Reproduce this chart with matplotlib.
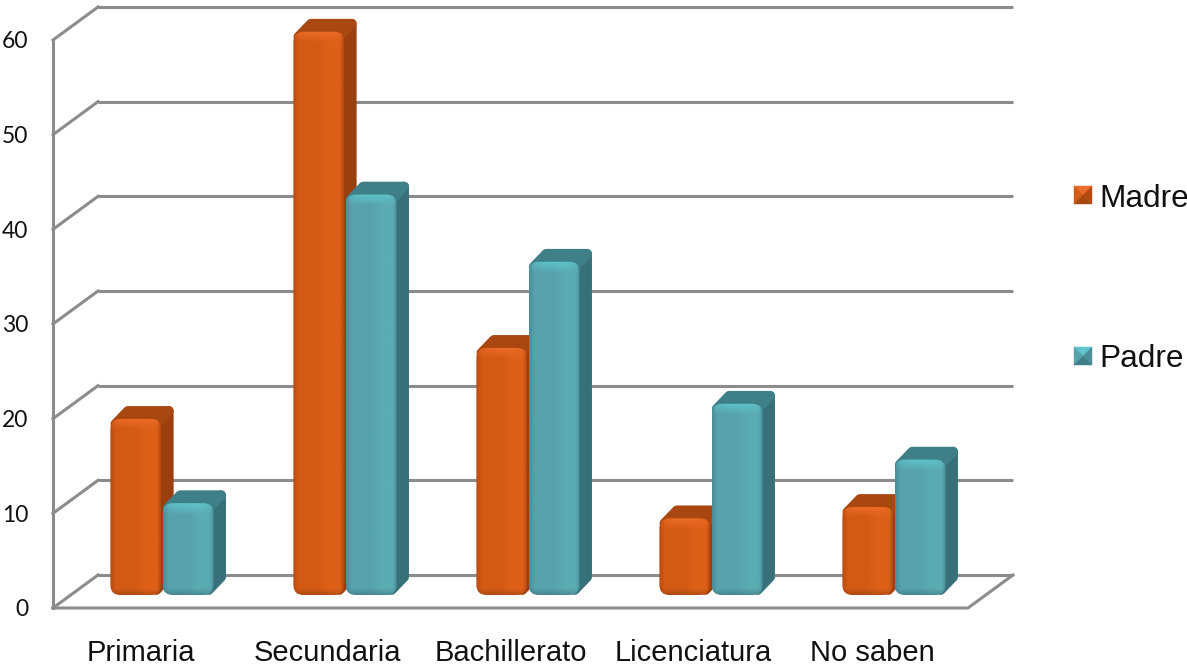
import numpy as np
import matplotlib
matplotlib.use('Agg')
import matplotlib.pyplot as plt
from matplotlib.colors import to_rgb
from matplotlib.patches import FancyBboxPatch, Polygon
from matplotlib.transforms import Affine2D, IdentityTransform

categories = ['Primaria', 'Secundaria', 'Bachillerato', 'Licenciatura', 'No saben']
madre = [18.6, 59.5, 26.1, 8.1, 9.3]
padre = [9.7, 42.3, 35.2, 20.2, 14.3]
y_ticks = [0, 10, 20, 30, 40, 50, 60]
series_labels = ['Madre', 'Padre']

W, H = 1187, 668
X0, X1 = 53, 968      # front edge of the floor
Y0, Y60 = 608, 40     # front edge of the left wall
BACK_DX, BACK_DY = 45, 33
PLANE_DX, PLANE_DY = 17.5, 13   # where the bars stand on the floor
DEPTH_X, DEPTH_Y = 12.5, 13
BAR_W = 0.278
GRID = '#8c8c8c'

ORANGE = dict(edge='#b84a10', body='#d35a14', right='#dd6018', bevel='#ee6c2a',
              side='#9a3f0d', top='#a8470f')
TEAL = dict(edge='#4a8f9a', body='#57a2ad', right='#5aabb2', bevel='#5fc4cb',
            side='#38707a', top='#3f8088')

fig = plt.figure(figsize=(W / 100, H / 100), dpi=100)
ax = fig.add_axes([X0 / W, (H - Y0) / H, (X1 - X0) / W, (Y0 - Y60) / H])
ax.patch.set_visible(False)
ax.set_xlim(-0.5, 4.5)
ax.set_ylim(0, 60)
for s in ax.spines.values():
    s.set_visible(False)

px_x = (X1 - X0) / 5      # pixels per category
px_y = (Y0 - Y60) / 60    # pixels per value unit


def shifted(dx, dy):
    return ax.transData + Affine2D().translate(dx, dy)


# walls and floor
back = shifted(BACK_DX, BACK_DY)
for t in y_ticks:
    ax.plot([-0.5, 4.5], [t, t], color=GRID, lw=2.2, transform=back, clip_on=False,
            solid_capstyle='butt', zorder=1)
    ax.plot([-0.5, -0.5 + BACK_DX / px_x], [t, t + BACK_DY / px_y], color=GRID, lw=2.2,
            clip_on=False, zorder=1)
ax.plot([-0.5, -0.5], [0, 60], color=GRID, lw=2.2, clip_on=False, zorder=1)
ax.plot([-0.5, 4.5, 4.5 + BACK_DX / px_x], [0, 0, BACK_DY / px_y], color=GRID, lw=2.2,
        clip_on=False, zorder=1)


def face_image(cols, rows, pal):
    # shaded front of a bar: darker rim, light bevel along the top
    xs = np.linspace(0, 1, cols)
    stops = [to_rgb(pal[k]) for k in ('edge', 'body', 'body', 'right', 'right', 'edge')]
    pos = [0, 0.1, 0.5, 0.7, 0.93, 1]
    row = np.stack([np.interp(xs, pos, [c[i] for c in stops]) for i in range(3)], axis=1)
    img = np.repeat(row[None, :, :], rows, axis=0)
    bevel = np.array(to_rgb(pal['bevel']))
    weight = np.clip(1 - np.arange(rows) / 11, 0, 1)[:, None, None]
    weight = weight * np.sin(np.pi * xs)[None, :, None] ** 0.4
    img = img * (1 - weight) + bevel * weight
    # slightly darker foot
    foot = np.clip((np.arange(rows) - (rows - 7)) / 7, 0, 1)[:, None, None] * 0.2
    return img * (1 - foot)


def draw_bar(left, value, pal, z):
    tf = shifted(PLANE_DX, PLANE_DY)
    right = left + BAR_W
    dx, dy = DEPTH_X / px_x, DEPTH_Y / px_y
    inset_x, inset_y = 5 / px_x, 5 / px_y
    top = value - inset_y
    side = Polygon([(right - inset_x, inset_y), (right + dx - inset_x, dy + inset_y),
                    (right + dx - inset_x, top + dy), (right - inset_x, top)],
                   closed=True, transform=tf, fc=pal['side'], ec=pal['side'], lw=7,
                   joinstyle='round', zorder=z, clip_on=False)
    lid = Polygon([(left + inset_x, top), (left + dx + inset_x, top + dy),
                   (right + dx - inset_x, top + dy), (right - inset_x, top)],
                  closed=True, transform=tf, fc=pal['top'], ec=pal['top'], lw=7,
                  joinstyle='round', zorder=z, clip_on=False)
    ax.add_patch(side)
    ax.add_patch(lid)
    outline = FancyBboxPatch((left, 0), BAR_W, value,
                             boxstyle='round,pad=0,rounding_size=%f' % (10 / px_x),
                             mutation_aspect=px_x / px_y, transform=tf, fc='none',
                             ec='none', zorder=z + 0.2, clip_on=False)
    ax.add_patch(outline)
    rows = max(int(value * px_y), 2)
    im = ax.imshow(face_image(int(BAR_W * px_x), rows, pal), aspect='auto',
                   extent=(left, right, 0, value), transform=tf, zorder=z + 0.1,
                   interpolation='bilinear')
    im.set_clip_box(fig.bbox)
    im.set_clip_path(outline)


z = 2
for i in range(len(categories)):
    draw_bar(i - BAR_W - 0.004, madre[i], ORANGE, z)
    draw_bar(i + 0.004, padre[i], TEAL, z + 1)
    z += 2
ax.set_xlim(-0.5, 4.5)
ax.set_ylim(0, 60)
ax.set_aspect('auto')

ax.set_yticks(y_ticks)
ax.set_yticklabels([str(t) for t in y_ticks], family='Lato', fontsize=16.5, color='#111111')
ax.set_xticks(range(len(categories)))
ax.set_xticklabels(categories, family='Liberation Sans', fontsize=21, color='#111111')
ax.tick_params(axis='y', length=0, pad=18)
ax.tick_params(axis='x', length=0, pad=22)

# the outer two category labels sit a little off centre
for lab in (ax.get_xticklabels()[0], ax.get_xticklabels()[4]):
    lab.set_transform(lab.get_transform() + Affine2D().translate(-4, 0))


def swatch(x, y, pal, size=18):
    # small pyramid-shaded key, placed in pixels from the top left
    l, r, t, b = x, x + size, H - y, H - y - size
    cx, cy = x + size / 2, H - y - size / 2
    tris = [([(l, t), (r, t), (cx, cy)], pal['bevel']),
            ([(l, t), (l, b), (cx, cy)], pal['body']),
            ([(r, t), (r, b), (cx, cy)], pal['edge']),
            ([(l, b), (r, b), (cx, cy)], pal['top'])]
    for pts, c in tris:
        fig.add_artist(Polygon(pts, closed=True, fc=c, ec=c, lw=0.3,
                               transform=IdentityTransform()))


swatch(1074, 186, ORANGE)
swatch(1074, 347, TEAL)
fig.text(1099 / W, 1 - 207 / H, series_labels[0], family='Liberation Sans', fontsize=22.8,
         va='baseline', ha='left', color='#111111')
fig.text(1099 / W, 1 - 367 / H, series_labels[1], family='Liberation Sans', fontsize=22.8,
         va='baseline', ha='left', color='#111111')

plt.savefig('out.png', dpi=100)
